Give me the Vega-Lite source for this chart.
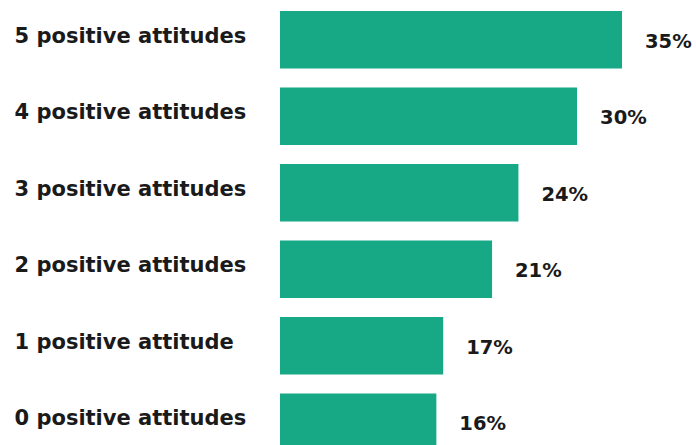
{
  "$schema": "https://vega.github.io/schema/vega-lite/v6.json",
  "autosize": {"type": "none"},
  "padding": {"left": 280, "top": 0, "right": 0, "bottom": 0},
  "width": 416,
  "height": 462,
  "background": "white",
  "config": {"view": {"stroke": null}},
  "data": {"values": [
    {"group": "5 positive attitudes", "value": 35.0, "label": "35%"},
    {"group": "4 positive attitudes", "value": 30.4, "label": "30%"},
    {"group": "3 positive attitudes", "value": 24.4, "label": "24%"},
    {"group": "2 positive attitudes", "value": 21.7, "label": "21%"},
    {"group": "1 positive attitude", "value": 16.7, "label": "17%"},
    {"group": "0 positive attitudes", "value": 16.0, "label": "16%"}
  ]},
  "encoding": {
    "y": {"field": "group", "type": "nominal", "sort": null,
      "scale": {"paddingInner": 0.25, "paddingOuter": 0.144},
      "axis": {"title": null, "domain": false, "ticks": false, "grid": false,
        "labelAlign": "left", "labelPadding": 266, "labelFontSize": 21, "labelOffset": -3,
        "labelFont": "DejaVu Sans", "labelFontWeight": "bold", "labelColor": "#1a1a1a", "labelLimit": 0}},
    "x": {"field": "value", "type": "quantitative",
      "scale": {"domain": [0, 42.57], "nice": false, "zero": true},
      "axis": null}
  },
  "layer": [
    {"mark": {"type": "bar", "color": "#17a885"}},
    {"mark": {"type": "text", "align": "left", "baseline": "middle", "dx": 23, "dy": 2,
      "font": "DejaVu Sans", "fontWeight": "bold", "fontSize": 19.5, "color": "#1a1a1a"},
     "encoding": {"text": {"field": "label"}}}
  ]
}
